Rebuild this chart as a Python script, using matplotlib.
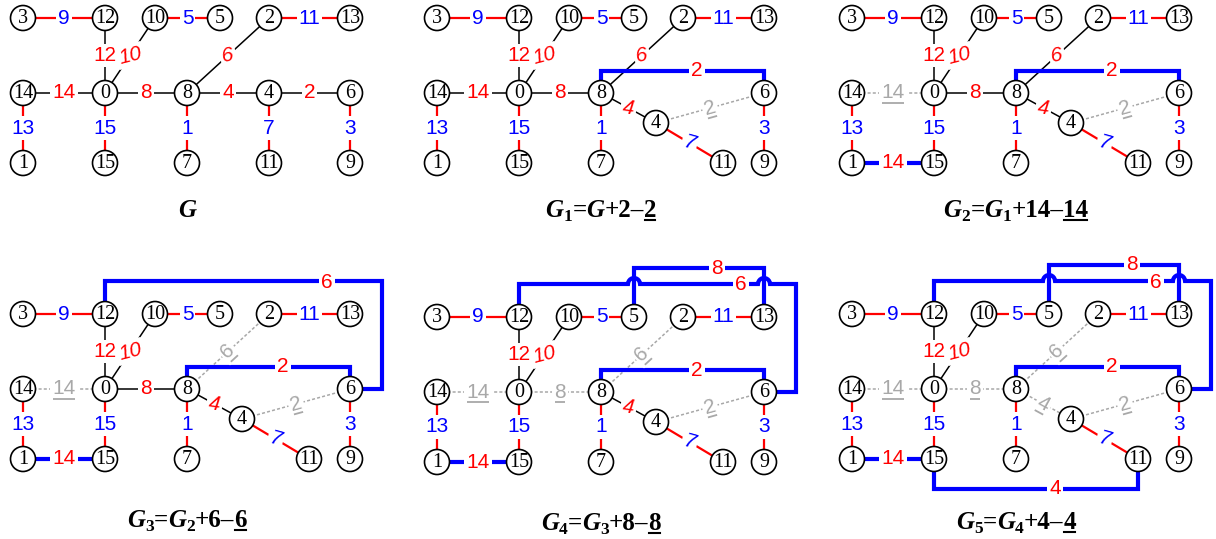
import numpy as np
import matplotlib.pyplot as plt
from matplotlib.patches import Circle

# tree edges (black, red weight) of G
tree_u = [12, 10, 14, 0, 8, 8, 4]
tree_v = [0, 0, 0, 8, 2, 4, 6]
tree_w = [12, 10, 14, 8, 6, 4, 2]
# pendant edges (red line, blue weight)
leaf_u = [3, 10, 2, 14, 0, 8, 4, 6]
leaf_v = [12, 5, 13, 1, 15, 7, 11, 9]
leaf_w = [9, 5, 11, 13, 15, 1, 7, 3]
# steps G_k = G_{k-1} + add - drop
add_u = [8, 1, 12, 5, 15]
add_v = [6, 15, 6, 13, 11]
add_w = [2, 14, 6, 8, 4]
drop_w = [2, 14, 6, 8, 4]

# ---- layout (pixels inside one panel) ----
base_pos = {3: (23, 18), 12: (105, 18), 10: (155, 18), 5: (220, 18), 2: (269, 18), 13: (350, 18),
            14: (23, 93), 0: (105, 93), 8: (187, 93), 4: (269, 93), 6: (350, 93),
            1: (23, 163), 15: (105, 163), 7: (187, 163), 11: (269, 163), 9: (350, 163)}
moved_pos = {4: (242, 123), 11: (309, 163)}
route_pts = {(8, 6): [(187, 71), (350, 71)],
             (1, 15): [],
             (12, 6): [(105, -15), (382, -15), (382, 93)],
             (5, 13): [(220, -31), (350, -31)],
             (15, 11): [(105, 193), (309, 193)]}
route_lab = {(8, 6): (283, 71), (1, 15): (64, 163), (12, 6): (327, -14),
             (5, 13): (303, -31), (15, 11): (226, 193)}
offsets = [(0, 0), (414, 0), (829, 0), (0, 296), (414, 299), (829, 296)]
title_y = [217, 217, 217, 527, 530, 529]

RED, BLUE, GREY = '#ff0000', '#0000ff', '#a8a8a8'
SANS = ['Liberation Sans', 'DejaVu Sans']

fig = plt.figure(figsize=(12.16, 5.39), dpi=100)
ax = fig.add_axes([0, 0, 1, 1])
ax.set_xlim(0, 1216)
ax.set_ylim(539, 0)
ax.axis('off')
rend = fig.canvas.get_renderer()


def screen_angle(p, q):
    a = np.degrees(np.arctan2(-(q[1] - p[1]), q[0] - p[0]))
    if a > 90:
        a -= 180
    if a < -90:
        a += 180
    return a


def label(x, y, s, color, rot=0, italic=False, under=False):
    t = ax.text(x, y, str(s), color=color, fontsize=15, family=SANS,
                style='italic' if italic else 'normal',
                rotation_mode='anchor', ha='center', va='center', zorder=4,
                bbox=dict(boxstyle='square,pad=0.1', fc='white', ec='none'))
    if under:
        w = t.get_window_extent(rend).width - 2
        a = np.radians(rot)
        along = np.array([np.cos(a), -np.sin(a)])
        below = np.array([np.sin(a), np.cos(a)])
        c = np.array([x, y]) + 9.5 * below
        p0, p1 = c - along * w / 2, c + along * w / 2
        ax.plot([p0[0], p1[0]], [p0[1], p1[1]], color=color, lw=1.3, zorder=4.5,
                solid_capstyle='butt')
    t.set_rotation(rot)


def add_hops(pts, others, r=6):
    # bump a horizontal segment over vertical segments of other routes
    out = [pts[0]]
    for p, q in zip(pts[:-1], pts[1:]):
        if p[1] == q[1] and p[0] != q[0]:
            xs = []
            for o in others:
                for a, b in zip(o[:-1], o[1:]):
                    if a[0] == b[0] and min(a[1], b[1]) < p[1] < max(a[1], b[1]) \
                            and min(p[0], q[0]) + r < a[0] < max(p[0], q[0]) - r:
                        xs.append(a[0])
            sgn = 1 if q[0] > p[0] else -1
            for xc in sorted(xs, key=lambda v: sgn * v):
                t = np.linspace(np.pi, 0, 12) if sgn > 0 else np.linspace(0, np.pi, 12)
                out += list(zip(xc + r * np.cos(t), p[1] - r * np.sin(t)))
        out.append(q)
    return out


for k, (ox, oy) in enumerate(offsets):
    pos = dict(base_pos)
    if k >= 1:
        pos.update(moved_pos)
    P = {n: (x + ox, y + oy) for n, (x, y) in pos.items()}
    dropped = drop_w[:k]

    for u, v, w in zip(tree_u, tree_v, tree_w):
        p, q = P[u], P[v]
        mx, my = (p[0] + q[0]) / 2, (p[1] + q[1]) / 2
        diag = p[0] != q[0] and p[1] != q[1]
        if w in dropped:
            ax.plot([p[0], q[0]], [p[1], q[1]], color=GREY, lw=1.1, ls=(0, (2, 1.4)), zorder=1)
            label(mx, my, w, GREY, rot=screen_angle(p, q) if diag else 0, under=True)
        else:
            ax.plot([p[0], q[0]], [p[1], q[1]], color='black', lw=1.1, zorder=1)
            label(mx, my, w, RED, rot=0.25 * screen_angle(p, q) if diag else 0, italic=diag)

    for u, v, w in zip(leaf_u, leaf_v, leaf_w):
        p, q = P[u], P[v]
        mx, my = (p[0] + q[0]) / 2, (p[1] + q[1]) / 2
        diag = p[0] != q[0] and p[1] != q[1]
        ax.plot([p[0], q[0]], [p[1], q[1]], color=RED, lw=1.6, zorder=1)
        label(mx, my, w, BLUE, rot=0.5 * screen_angle(p, q) if diag else 0, italic=diag)

    routes = []
    for u, v in zip(add_u[:k], add_v[:k]):
        pts = [P[u]] + [(x + ox, y + oy) for x, y in route_pts[(u, v)]] + [P[v]]
        routes.append(pts)
    for i, (u, v, w) in enumerate(zip(add_u[:k], add_v[:k], add_w[:k])):
        pts = add_hops(routes[i], routes[:i] + routes[i + 1:])
        xs, ys = zip(*pts)
        ax.plot(xs, ys, color=BLUE, lw=3, solid_joinstyle='miter', solid_capstyle='butt', zorder=2)
        lx, ly = route_lab[(u, v)]
        label(lx + ox, ly + oy, w, RED)

    for n, (x, y) in P.items():
        ax.add_patch(Circle((x, y), 12.5, fc='white', ec='black', lw=1.2, zorder=5))
        ax.text(x, y + 0.5, str(n), fontsize=14.5, family='Liberation Serif',
                ha='center', va='center', zorder=6)

    # title built from pieces
    if k == 0:
        pieces = [('G', 'it')]
    else:
        pieces = [('G', 'it'), (str(k), 'sub'), ('=', 'rm'), ('G', 'it')]
        if k > 1:
            pieces.append((str(k - 1), 'sub'))
        pieces += [('+%d\u2013' % add_w[k - 1], 'rm'), (str(drop_w[k - 1]), 'ul')]
    items = []
    for s, kind in pieces:
        t = ax.text(0, title_y[k] + (4 if kind == 'sub' else 0), s,
                    fontsize=12.5 if kind == 'sub' else 18, fontweight='bold',
                    style='italic' if kind == 'it' else 'normal',
                    family='Liberation Serif', ha='left', va='baseline')
        items.append((t, t.get_window_extent(rend).width, kind))
    x = ox + 187 - sum(w for _, w, _ in items) / 2
    for t, w, kind in items:
        t.set_x(x)
        if kind == 'ul':
            ax.plot([x + 1, x + w - 1], [title_y[k] + 2.5] * 2, color='black', lw=1.5)
        x += w

fig.savefig('out.png', dpi=100)
